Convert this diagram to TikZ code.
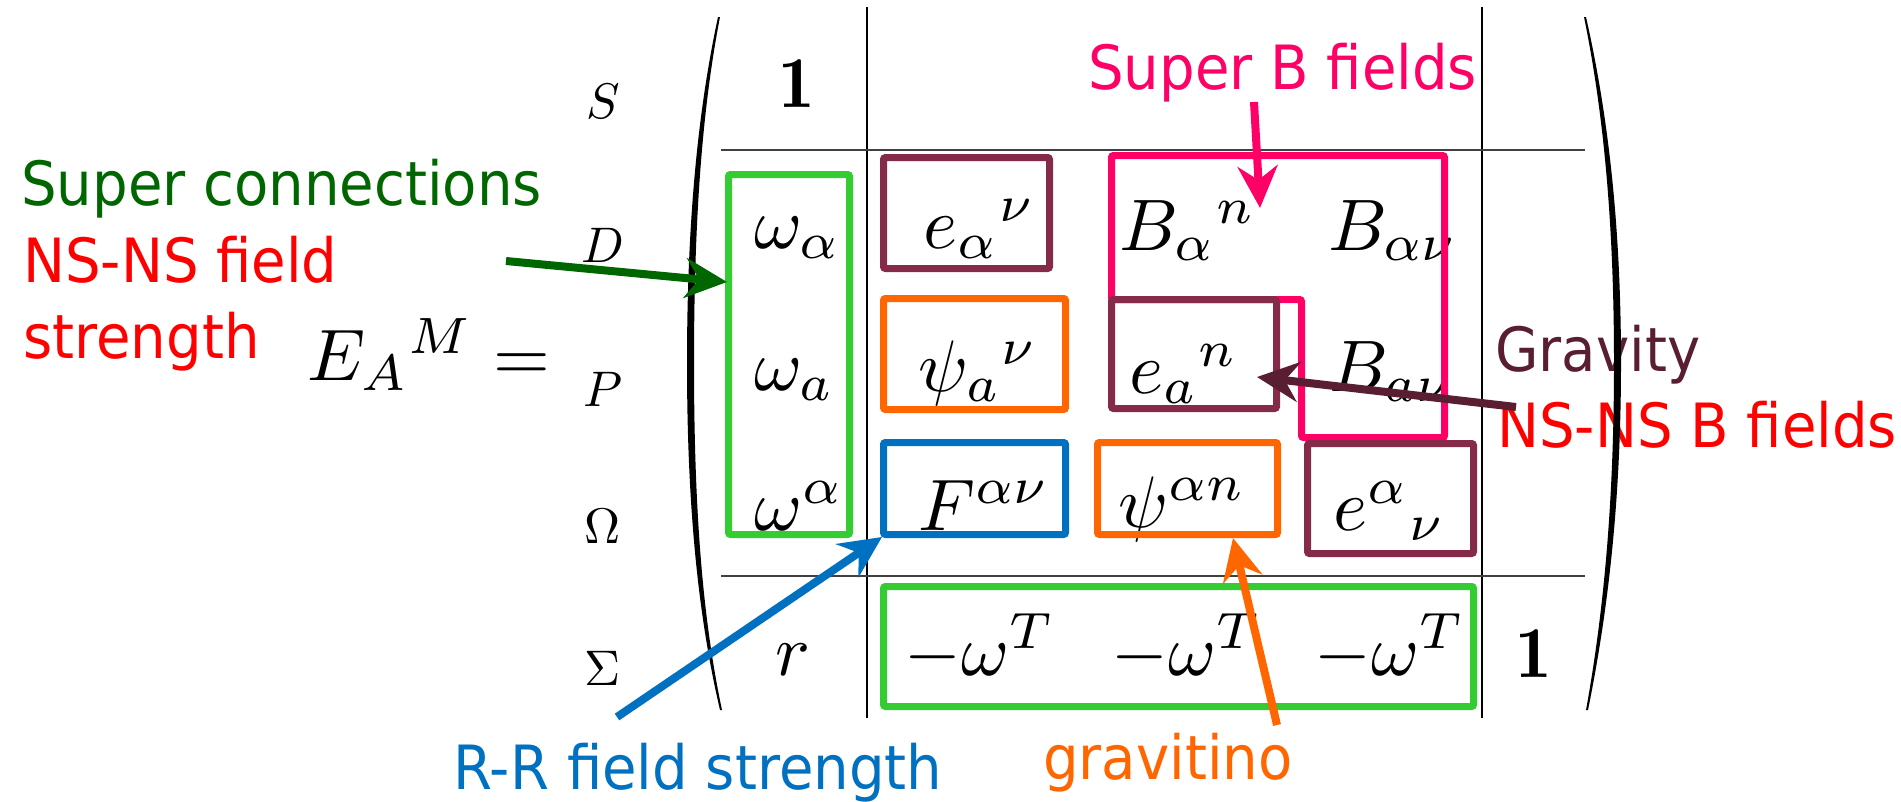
\documentclass[tikz,border=0pt]{standalone}
\usepackage{fontspec}
\usetikzlibrary{arrows.meta}
\newfontfamily\labfont{DejaVu Sans}[FakeStretch=0.92]
\definecolor{dgreen}{RGB}{0,102,0}
\definecolor{lgreen}{RGB}{51,204,51}
\definecolor{boxmaroon}{RGB}{134,42,74}
\definecolor{dmaroon}{RGB}{90,30,50}
\definecolor{orng}{RGB}{255,102,0}
\definecolor{blu}{RGB}{0,112,192}
\definecolor{pnk}{RGB}{255,0,102}
\definecolor{rd}{RGB}{255,0,0}
\tikzset{
  ent/.style={inner sep=0pt, anchor=base west, scale=7.3, font=\fontsize{10}{12}\selectfont},
  rowlab/.style={inner sep=0pt, anchor=base, scale=5.0, font=\fontsize{10}{12}\selectfont},
  lab/.style={inner sep=0pt, anchor=base west, font=\labfont\fontsize{61}{70}\selectfont},
  bx/.style={line width=7pt, rounded corners=2pt},
  arr/.style={line width=8pt, -{Stealth[length=42pt,width=40pt,inset=14pt]}},
  rule/.style={line width=2.2pt, black!75},
  vrule/.style={line width=1.6pt, black},
}
\begin{document}
\begin{tikzpicture}[x=1pt,y=-1pt]
\useasboundingbox (0,0) rectangle (1901,801);

% side labels
\node[lab, text=dgreen] (sc) at (21,205) {Super connections};
\node[lab, text=rd] (nsf) at (23,282) {NS-NS field};
\node[lab, text=rd] (str) at (23,358) {strength};
\node[lab, text=pnk] (sbf) at (1088,89) {Super B fields};
\node[lab, text=dmaroon] (grav) at (1495,371) {Gravity};
\node[lab, text=rd] (nsb) at (1497,447) {NS-NS B fields};
\node[lab, text=blu] (rr) at (453,789) {R-R field strength};
\node[lab, text=orng] (gino) at (1043,779) {gravitino};

% E_A^M =
\node[ent] (lhs) at (306,380) {$E_{A}{}^{M} =$};

% row labels
\node[rowlab] (lS) at (603,118) {$S$};
\node[rowlab] (lD) at (603,262) {$D$};
\node[rowlab] (lP) at (603,406) {$P$};
\node[rowlab] (lO) at (603,543) {$\Omega$};
\node[rowlab] (lL) at (603,685) {$\Sigma$};

% matrix rules
\draw[vrule] (867,7) -- (867,718);
\draw[vrule] (1482,7) -- (1482,718);
\draw[rule] (721,150) -- (1585,150);
\draw[rule] (721,576) -- (1585,576);

% parentheses
\fill (718,17) .. controls (698,110) and (687,220) .. (687,363)
      .. controls (687,506) and (698,616) .. (720,710)
      -- (722,710) .. controls (702,616) and (694,506) .. (694,363)
      .. controls (694,220) and (702,110) .. (720,17) -- cycle;
\fill (1586,17) .. controls (1607,110) and (1621,220) .. (1621,363)
      .. controls (1621,506) and (1607,616) .. (1588,710)
      -- (1586,710) .. controls (1603,616) and (1614,506) .. (1614,363)
      .. controls (1614,220) and (1603,110) .. (1584,17) -- cycle;

% entries
\node[ent, anchor=base] (one1) at (797,107) {$\mathbf{1}$};
\node[ent] (wa) at (753,248) {$\omega_{\alpha}$};
\node[ent] (wb) at (753,390) {$\omega_{a}$};
\node[ent] (wc) at (753,530) {$\omega^{\alpha}$};
\node[ent, anchor=base] (r) at (793,675) {$r$};
\node[ent] (e1) at (922,248) {$e_{\alpha}{}^{\nu}$};
\node[ent] (psi1) at (917,391) {$\psi_{a}{}^{\nu}$};
\node[ent] (F) at (917,530) {$F^{\alpha\nu}$};
\node[ent] (mw1) at (903,675) {$-\omega^{T}$};
\node[ent] (B1) at (1118,250) {$B_{\alpha}{}^{n}$};
\node[ent] (e2) at (1128,393) {$e_{a}{}^{n}$};
\node[ent] (psi2) at (1117,527) {$\psi^{\alpha n}$};
\node[ent] (mw2) at (1110,675) {$-\omega^{T}$};
\node[ent] (B2) at (1327,250) {$B_{\alpha\nu}$};
\node[ent] (B3) at (1328,391) {$B_{a\nu}$};
\node[ent] (e3) at (1332,530) {$e^{\alpha}{}_{\nu}$};
\node[ent] (mw3) at (1313,675) {$-\omega^{T}$};
\node[ent, anchor=base] (one2) at (1534,677) {$\mathbf{1}$};

% boxes
\draw[bx, pnk] (1111.5,155.5) -- (1444.5,155.5) -- (1444.5,437.5) -- (1301.5,437.5)
   -- (1301.5,299.5) -- (1111.5,299.5) -- cycle;
\draw[bx, lgreen] (728.5,174.5) rectangle (849.5,534.5);
\draw[bx, boxmaroon] (883.5,157.5) rectangle (1049.5,268.5);
\draw[bx, orng] (883.5,298.5) rectangle (1065.5,409.5);
\draw[bx, blu] (883.5,442.5) rectangle (1065.5,534.5);
\draw[bx, lgreen] (883.5,586.5) rectangle (1473.5,706.5);
\draw[bx, boxmaroon] (1111.5,299.5) rectangle (1276.5,408.5);
\draw[bx, orng] (1097.5,442.5) rectangle (1277.5,534.5);
\draw[bx, boxmaroon] (1307.5,443.5) rectangle (1473.5,553.5);

% arrow ends
\coordinate (gS) at (506,261);  \coordinate (gT) at (727,282);
\coordinate (pS) at (1254,102); \coordinate (pT) at (1260,208);
\coordinate (mS) at (1516,407); \coordinate (mT) at (1257,377);
\coordinate (bS) at (617,717);  \coordinate (bT) at (882,537);
\coordinate (oS) at (1277,725); \coordinate (oT) at (1233,538);

\draw[arr, dgreen] (gS) -- (gT);
\draw[arr, pnk] (pS) -- (pT);
\draw[arr, dmaroon] (mS) -- (mT);
\draw[arr, blu] (bS) -- (bT);
\draw[arr, orng] (oS) -- (oT);
\end{tikzpicture}
\end{document}
